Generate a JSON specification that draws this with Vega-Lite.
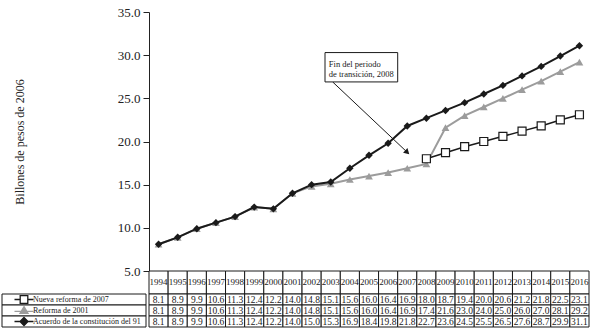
{
  "$schema": "https://vega.github.io/schema/vega-lite/v6.json",
  "padding": {"left": 1, "top": 6, "right": 3, "bottom": 4},
  "background": "white",
  "config": {"view": {"stroke": null}, "font": "Liberation Serif"},
  "datasets": {
    "d": [
      {"year": 1994, "series": "Nueva reforma de 2007", "value": 8.1},
      {"year": 1995, "series": "Nueva reforma de 2007", "value": 8.9},
      {"year": 1996, "series": "Nueva reforma de 2007", "value": 9.9},
      {"year": 1997, "series": "Nueva reforma de 2007", "value": 10.6},
      {"year": 1998, "series": "Nueva reforma de 2007", "value": 11.3},
      {"year": 1999, "series": "Nueva reforma de 2007", "value": 12.4},
      {"year": 2000, "series": "Nueva reforma de 2007", "value": 12.2},
      {"year": 2001, "series": "Nueva reforma de 2007", "value": 14.0},
      {"year": 2002, "series": "Nueva reforma de 2007", "value": 14.8},
      {"year": 2003, "series": "Nueva reforma de 2007", "value": 15.1},
      {"year": 2004, "series": "Nueva reforma de 2007", "value": 15.6},
      {"year": 2005, "series": "Nueva reforma de 2007", "value": 16.0},
      {"year": 2006, "series": "Nueva reforma de 2007", "value": 16.4},
      {"year": 2007, "series": "Nueva reforma de 2007", "value": 16.9},
      {"year": 2008, "series": "Nueva reforma de 2007", "value": 18.0},
      {"year": 2009, "series": "Nueva reforma de 2007", "value": 18.7},
      {"year": 2010, "series": "Nueva reforma de 2007", "value": 19.4},
      {"year": 2011, "series": "Nueva reforma de 2007", "value": 20.0},
      {"year": 2012, "series": "Nueva reforma de 2007", "value": 20.6},
      {"year": 2013, "series": "Nueva reforma de 2007", "value": 21.2},
      {"year": 2014, "series": "Nueva reforma de 2007", "value": 21.8},
      {"year": 2015, "series": "Nueva reforma de 2007", "value": 22.5},
      {"year": 2016, "series": "Nueva reforma de 2007", "value": 23.1},
      {"year": 1994, "series": "Reforma de 2001", "value": 8.1},
      {"year": 1995, "series": "Reforma de 2001", "value": 8.9},
      {"year": 1996, "series": "Reforma de 2001", "value": 9.9},
      {"year": 1997, "series": "Reforma de 2001", "value": 10.6},
      {"year": 1998, "series": "Reforma de 2001", "value": 11.3},
      {"year": 1999, "series": "Reforma de 2001", "value": 12.4},
      {"year": 2000, "series": "Reforma de 2001", "value": 12.2},
      {"year": 2001, "series": "Reforma de 2001", "value": 14.0},
      {"year": 2002, "series": "Reforma de 2001", "value": 14.8},
      {"year": 2003, "series": "Reforma de 2001", "value": 15.1},
      {"year": 2004, "series": "Reforma de 2001", "value": 15.6},
      {"year": 2005, "series": "Reforma de 2001", "value": 16.0},
      {"year": 2006, "series": "Reforma de 2001", "value": 16.4},
      {"year": 2007, "series": "Reforma de 2001", "value": 16.9},
      {"year": 2008, "series": "Reforma de 2001", "value": 17.4},
      {"year": 2009, "series": "Reforma de 2001", "value": 21.6},
      {"year": 2010, "series": "Reforma de 2001", "value": 23.0},
      {"year": 2011, "series": "Reforma de 2001", "value": 24.0},
      {"year": 2012, "series": "Reforma de 2001", "value": 25.0},
      {"year": 2013, "series": "Reforma de 2001", "value": 26.0},
      {"year": 2014, "series": "Reforma de 2001", "value": 27.0},
      {"year": 2015, "series": "Reforma de 2001", "value": 28.1},
      {"year": 2016, "series": "Reforma de 2001", "value": 29.2},
      {"year": 1994, "series": "Acuerdo de la constitución del 91", "value": 8.1},
      {"year": 1995, "series": "Acuerdo de la constitución del 91", "value": 8.9},
      {"year": 1996, "series": "Acuerdo de la constitución del 91", "value": 9.9},
      {"year": 1997, "series": "Acuerdo de la constitución del 91", "value": 10.6},
      {"year": 1998, "series": "Acuerdo de la constitución del 91", "value": 11.3},
      {"year": 1999, "series": "Acuerdo de la constitución del 91", "value": 12.4},
      {"year": 2000, "series": "Acuerdo de la constitución del 91", "value": 12.2},
      {"year": 2001, "series": "Acuerdo de la constitución del 91", "value": 14.0},
      {"year": 2002, "series": "Acuerdo de la constitución del 91", "value": 15.0},
      {"year": 2003, "series": "Acuerdo de la constitución del 91", "value": 15.3},
      {"year": 2004, "series": "Acuerdo de la constitución del 91", "value": 16.9},
      {"year": 2005, "series": "Acuerdo de la constitución del 91", "value": 18.4},
      {"year": 2006, "series": "Acuerdo de la constitución del 91", "value": 19.8},
      {"year": 2007, "series": "Acuerdo de la constitución del 91", "value": 21.8},
      {"year": 2008, "series": "Acuerdo de la constitución del 91", "value": 22.7},
      {"year": 2009, "series": "Acuerdo de la constitución del 91", "value": 23.6},
      {"year": 2010, "series": "Acuerdo de la constitución del 91", "value": 24.5},
      {"year": 2011, "series": "Acuerdo de la constitución del 91", "value": 25.5},
      {"year": 2012, "series": "Acuerdo de la constitución del 91", "value": 26.5},
      {"year": 2013, "series": "Acuerdo de la constitución del 91", "value": 27.6},
      {"year": 2014, "series": "Acuerdo de la constitución del 91", "value": 28.7},
      {"year": 2015, "series": "Acuerdo de la constitución del 91", "value": 29.9},
      {"year": 2016, "series": "Acuerdo de la constitución del 91", "value": 31.1}
    ],
    "box": [{"x1": 2002.7, "x2": 2006.5, "y1": 30.3, "y2": 26.9}],
    "note": [
      {"x": 2002.9, "y": 29.0, "text": "Fin del periodo"},
      {"x": 2002.9, "y": 27.8, "text": "de transición, 2008"}
    ],
    "arrow": [{"x1": 2003.1, "y1": 26.9, "x2": 2007.0, "y2": 18.75}]
  },
  "columns": 2,
  "bounds": "flush",
  "spacing": {"row": 0, "column": 3},
  "concat": [
    {
      "width": 144, "height": 259,
      "data": {"values": [{"a": 1}]},
      "mark": {"type": "rect", "opacity": 0},
      "encoding": {}
    },
    {
      "width": 440, "height": 259,
      "data": {"name": "d"},
      "encoding": {
        "x": {"field": "year", "type": "quantitative", "scale": {"domain": [1993.5, 2016.5], "nice": false, "zero": false}, "axis": null},
        "y": {
          "field": "value", "type": "quantitative",
          "scale": {"domain": [5, 35], "nice": false, "zero": false},
          "axis": {
            "values": [5, 10, 15, 20, 25, 30, 35], "format": ".1f", "grid": false,
            "domainColor": "#222", "tickColor": "#222", "tickSize": 6,
            "labelFont": "Liberation Serif", "labelFontSize": 13, "labelColor": "#222", "labelPadding": 3,
            "title": "Billones de pesos de 2006", "titleFont": "Liberation Serif", "titleFontSize": 12,
            "titleFontWeight": "normal", "titleColor": "#222", "titlePadding": 91
          }
        }
      },
      "layer": [
        {
          "transform": [{"filter": "datum.series === 'Reforma de 2001'"}],
          "mark": {"type": "line", "color": "#9c9c9c", "strokeWidth": 2}
        },
        {
          "transform": [{"filter": "datum.series === 'Reforma de 2001'"}],
          "mark": {"type": "point", "shape": "triangle-up", "size": 60, "filled": true, "color": "#9c9c9c", "opacity": 1}
        },
        {
          "transform": [{"filter": "datum.series === 'Nueva reforma de 2007' && datum.year >= 2008"}],
          "mark": {"type": "line", "color": "#1a1a1a", "strokeWidth": 1.5}
        },
        {
          "transform": [{"filter": "datum.series === 'Nueva reforma de 2007' && datum.year >= 2008"}],
          "mark": {"type": "point", "shape": "square", "size": 64, "filled": true, "fill": "white", "stroke": "#1a1a1a", "strokeWidth": 1.2, "opacity": 1}
        },
        {
          "transform": [{"filter": "datum.series === 'Acuerdo de la constitución del 91'"}],
          "mark": {"type": "line", "color": "#1a1a1a", "strokeWidth": 2}
        },
        {
          "transform": [{"filter": "datum.series === 'Acuerdo de la constitución del 91'"}],
          "mark": {"type": "point", "shape": "diamond", "size": 55, "filled": true, "color": "#1a1a1a", "opacity": 1}
        },
        {
          "data": {"name": "arrow"},
          "mark": {"type": "rule", "color": "#1a1a1a", "strokeWidth": 1},
          "encoding": {
            "x": {"field": "x1", "type": "quantitative"},
            "y": {"field": "y1", "type": "quantitative"},
            "x2": {"field": "x2"},
            "y2": {"field": "y2"}
          }
        },
        {
          "data": {"name": "arrow"},
          "mark": {"type": "point", "shape": "triangle-right", "angle": 43.5, "size": 40, "filled": true, "color": "#1a1a1a", "opacity": 1},
          "encoding": {
            "x": {"field": "x2", "type": "quantitative"},
            "y": {"field": "y2", "type": "quantitative"}
          }
        },
        {
          "data": {"name": "box"},
          "mark": {"type": "rect", "fill": "white", "stroke": "#1a1a1a", "strokeWidth": 1},
          "encoding": {
            "x": {"field": "x1", "type": "quantitative"},
            "x2": {"field": "x2"},
            "y": {"field": "y1", "type": "quantitative"},
            "y2": {"field": "y2"}
          }
        },
        {
          "data": {"name": "note"},
          "mark": {"type": "text", "align": "left", "baseline": "middle", "font": "Liberation Serif", "fontSize": 8.5, "color": "#1a1a1a"},
          "encoding": {
            "x": {"field": "x", "type": "quantitative"},
            "y": {"field": "y", "type": "quantitative"},
            "text": {"field": "text"}
          }
        }
      ]
    },
    {
      "width": 144, "height": 23,
      "data": {"values": [{"a": 1}]},
      "mark": {"type": "rect", "opacity": 0},
      "encoding": {}
    },
    {
      "width": 440, "height": 23,
      "data": {"name": "d"},
      "transform": [{"filter": "datum.series === 'Acuerdo de la constitución del 91'"}],
      "encoding": {
        "x": {"field": "year", "type": "ordinal", "scale": {"paddingInner": 0, "paddingOuter": 0}, "axis": null}
      },
      "layer": [
        {"mark": {"type": "rect", "fill": "white", "stroke": "#1a1a1a", "strokeWidth": 1}},
        {
          "mark": {"type": "text", "font": "Liberation Serif", "fontSize": 9, "baseline": "middle", "dy": -1, "color": "#1a1a1a"},
          "encoding": {"text": {"field": "year", "type": "nominal"}}
        }
      ]
    },
    {
      "width": 144, "height": 33,
      "data": {"name": "d"},
      "transform": [{"filter": "datum.year === 1994"}],
      "encoding": {
        "y": {
          "field": "series", "type": "nominal",
          "sort": ["Nueva reforma de 2007", "Reforma de 2001", "Acuerdo de la constitución del 91"],
          "scale": {"paddingInner": 0, "paddingOuter": 0},
          "axis": null
        }
      },
      "layer": [
        {"mark": {"type": "rect", "fill": "white", "stroke": "#1a1a1a", "strokeWidth": 1}},
        {
          "mark": {"type": "point", "size": 361, "strokeWidth": 1.3, "opacity": 1, "filled": true, "xOffset": -50},
          "encoding": {
            "shape": {
              "field": "series", "type": "nominal", "legend": null,
              "scale": {
                "domain": ["Nueva reforma de 2007", "Reforma de 2001", "Acuerdo de la constitución del 91"],
                "range": [
                  "M-1,0H-0.4M0.4,0H1M-0.4,-0.4H0.4V0.4H-0.4Z",
                  "M-1,0.1H1M0,-0.4L0.42,0.3H-0.42Z",
                  "M-1,0H1M0,-0.42L0.42,0L0,0.42L-0.42,0Z"
                ]
              }
            },
            "fill": {
              "field": "series", "type": "nominal", "legend": null,
              "scale": {
                "domain": ["Nueva reforma de 2007", "Reforma de 2001", "Acuerdo de la constitución del 91"],
                "range": ["white", "#9c9c9c", "#1a1a1a"]
              }
            },
            "stroke": {
              "field": "series", "type": "nominal", "legend": null,
              "scale": {
                "domain": ["Nueva reforma de 2007", "Reforma de 2001", "Acuerdo de la constitución del 91"],
                "range": ["#1a1a1a", "#9c9c9c", "#1a1a1a"]
              }
            }
          }
        },
        {
          "mark": {"type": "text", "align": "left", "baseline": "middle", "dx": -41, "font": "Liberation Serif", "fontSize": 8, "color": "#1a1a1a"},
          "encoding": {"text": {"field": "series", "type": "nominal"}}
        }
      ]
    },
    {
      "width": 440, "height": 33,
      "data": {"name": "d"},
      "encoding": {
        "x": {"field": "year", "type": "ordinal", "scale": {"paddingInner": 0, "paddingOuter": 0}, "axis": null},
        "y": {
          "field": "series", "type": "nominal",
          "sort": ["Nueva reforma de 2007", "Reforma de 2001", "Acuerdo de la constitución del 91"],
          "scale": {"paddingInner": 0, "paddingOuter": 0},
          "axis": null
        }
      },
      "layer": [
        {"mark": {"type": "rect", "fill": "white", "stroke": "#1a1a1a", "strokeWidth": 1}},
        {
          "mark": {"type": "text", "font": "Liberation Serif", "fontSize": 9.5, "baseline": "middle", "color": "#1a1a1a"},
          "encoding": {"text": {"field": "value", "type": "quantitative", "format": ".1f"}}
        }
      ]
    }
  ]
}
